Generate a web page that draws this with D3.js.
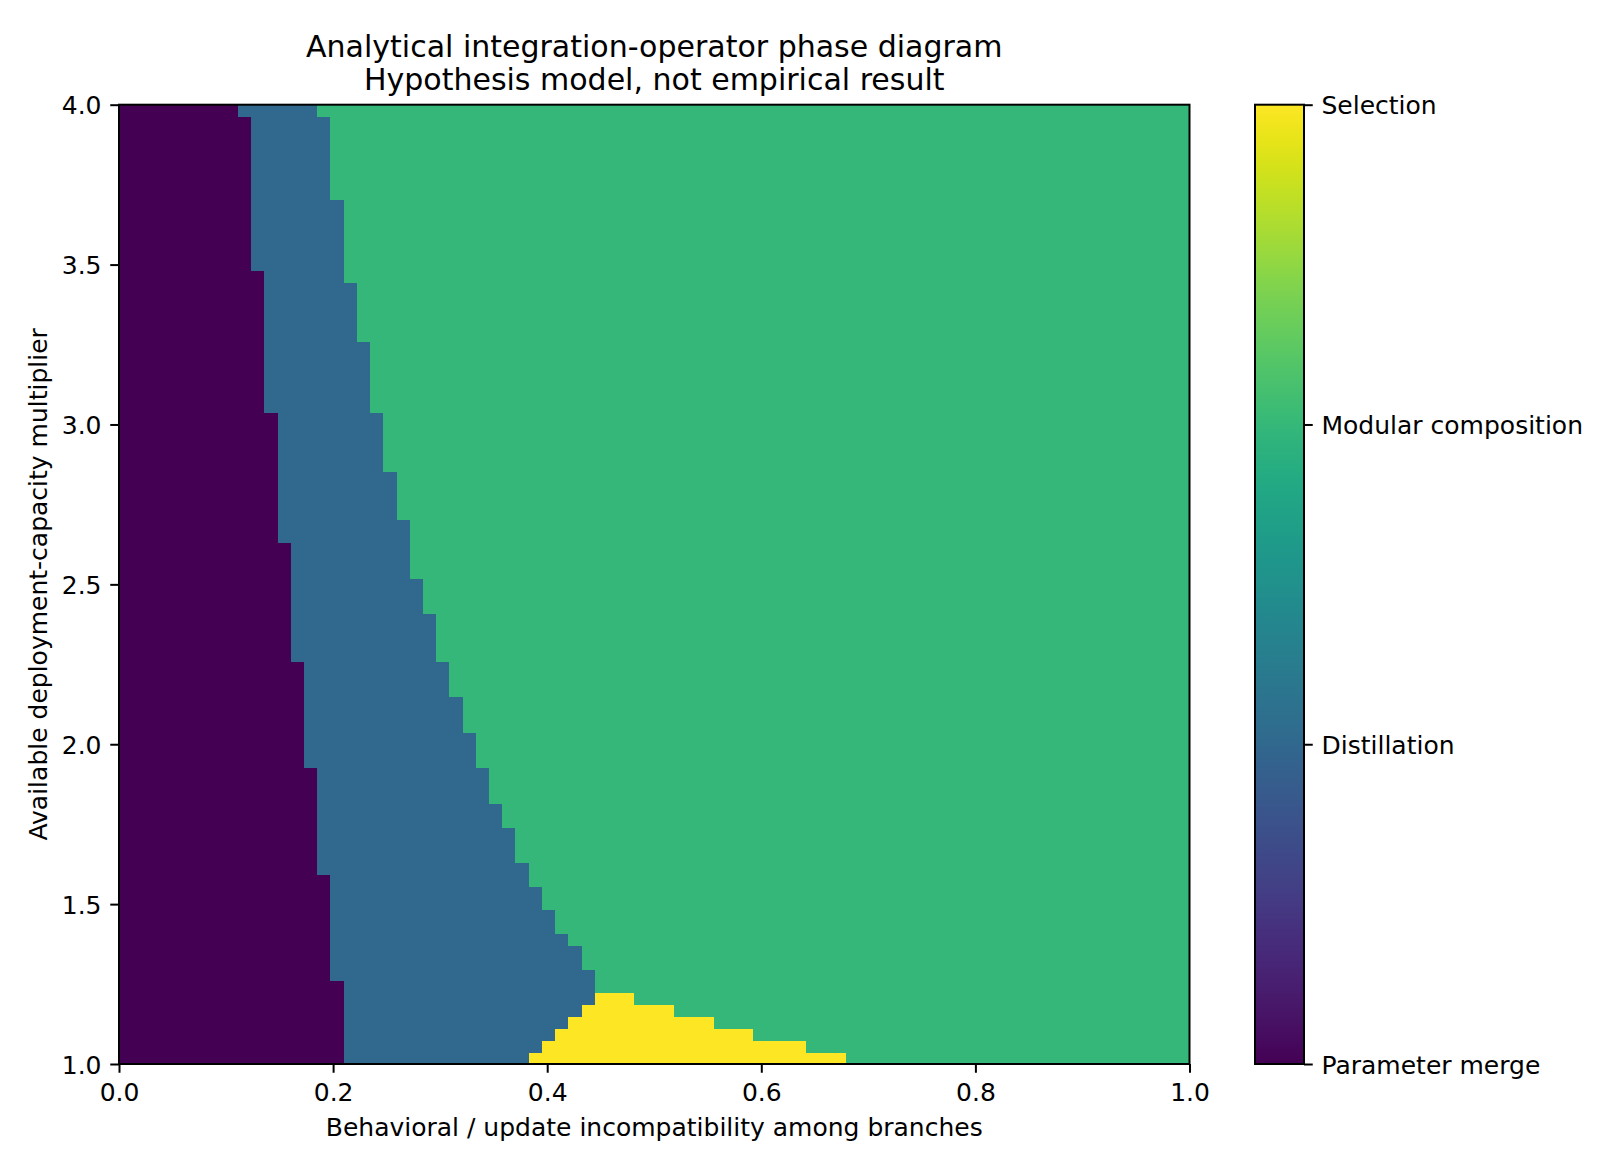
<!DOCTYPE html>
<html>
<head>
<meta charset="utf-8">
<script src="https://cdn.jsdelivr.net/npm/d3@7"></script>
<style>
    body { margin: 0; background: #fff; }
    svg text { font-family: "DejaVu Sans", sans-serif; fill: #000; }
</style>
</head>
<body>
<svg id="chart"></svg>
<script>
// phase classes: 0 merge, 1 distillation, 2 modular composition, 3 selection
var phaseNames = ['Parameter merge', 'Distillation', 'Modular composition', 'Selection'];
var phaseValues = [0, 1, 2, 3];

var xTicks = [0.0, 0.2, 0.4, 0.6, 0.8, 1.0];
var yTicks = [1.0, 1.5, 2.0, 2.5, 3.0, 3.5, 4.0];

var nCols = 81, nRows = 81;

// per grid row, bottom (capacity 1.0) to top (4.0): first column in Distillation
var distillStart = [
    17,17,17,17,17,17,17,16,16,16,
    16,16,16,16,16,16,15,15,15,15,
    15,15,15,15,15,14,14,14,14,14,
    14,14,14,14,13,13,13,13,13,13,
    13,13,13,13,12,12,12,12,12,12,
    12,12,12,12,12,11,11,11,11,11,
    11,11,11,11,11,11,11,10,10,10,
    10,10,10,10,10,10,10,10,10,10,
    9
];

// per grid row: first column past Distillation
var distillEnd = [
    31,32,33,34,35,36,36,36,35,35,
    34,33,33,32,32,31,31,30,30,30,
    29,29,28,28,28,27,27,27,26,26,
    26,25,25,25,24,24,24,24,23,23,
    23,22,22,22,22,22,21,21,21,21,
    20,20,20,20,20,19,19,19,19,19,
    19,18,18,18,18,18,17,17,17,17,
    17,17,17,16,16,16,16,16,16,16,
    15
];

// bottom rows only: first column past the Selection pocket
var selectionEnd = [55, 52, 48, 45, 42, 39];

var title1 = 'Analytical integration-operator phase diagram';
var title2 = 'Hypothesis model, not empirical result';
var xLabel = 'Behavioral / update incompatibility among branches';
var yLabel = 'Available deployment-capacity multiplier';

// figure geometry
var figW = 1620, figH = 1170;
var margin = {left: 119, top: 104.7};
var width = 1070.5, height = 959.3;
var cbar = {x: 1255, w: 49};

var svg = d3.select('#chart')
    .attr('width', figW)
    .attr('height', figH);

var g = svg.append('g')
    .attr('transform', 'translate(' + margin.left + ',' + margin.top + ')');

var x = d3.scaleLinear().domain([0, 1]).range([0, width]);
var y = d3.scaleLinear().domain([1, 4]).range([height, 0]);
var color = function(v) { return d3.interpolateViridis(v / 3); };

function phaseAt(r, c) {
    if (c < distillStart[r]) return 0;
    if (c < distillEnd[r]) return 1;
    if (r < selectionEnd.length && c < selectionEnd[r]) return 3;
    return 2;
}

// collapse each row into runs of equal phase
var runs = [];
for (var r = 0; r < nRows; r++) {
    var c0 = 0, cur = phaseAt(r, 0);
    for (var c = 1; c <= nCols; c++) {
        var p = c < nCols ? phaseAt(r, c) : -1;
        if (p !== cur) {
            runs.push({row: r, c0: c0, c1: c, phase: cur});
            c0 = c; cur = p;
        }
    }
}

var cellY0 = function(r) { return 1 + 3 * r / nRows; };

g.append('g')
    .selectAll('rect')
    .data(runs)
    .join('rect')
    .attr('x', function(d) { return x(d.c0 / nCols); })
    .attr('width', function(d) { return x(d.c1 / nCols) - x(d.c0 / nCols) + 0.4; })
    .attr('y', function(d) { return y(cellY0(d.row + 1)); })
    .attr('height', function(d) { return y(cellY0(d.row)) - y(cellY0(d.row + 1)) + 0.4; })
    .attr('fill', function(d) { return color(d.phase); })
    .attr('shape-rendering', 'crispEdges');

// axes
var xAxis = g.append('g')
    .attr('transform', 'translate(0,' + height + ')')
    .call(d3.axisBottom(x)
        .tickValues(xTicks)
        .tickFormat(d3.format('.1f'))
        .tickSize(8.75)
        .tickPadding(10));

var yAxis = g.append('g')
    .call(d3.axisLeft(y)
        .tickValues(yTicks)
        .tickFormat(d3.format('.1f'))
        .tickSize(8.75)
        .tickPadding(8.75));

[xAxis, yAxis].forEach(function(a) {
    a.select('.domain').remove();
    a.selectAll('line').attr('stroke', '#000').attr('stroke-width', 2);
    a.selectAll('text').style('font-size', '25px').attr('fill', '#000');
});
yAxis.selectAll('text').attr('dy', '0.36em');

// spines
g.append('rect')
    .attr('width', width)
    .attr('height', height)
    .attr('fill', 'none')
    .attr('stroke', '#000')
    .attr('stroke-width', 2);

// colorbar
var defs = svg.append('defs');
var grad = defs.append('linearGradient')
    .attr('id', 'viridis')
    .attr('x1', 0).attr('y1', 1)
    .attr('x2', 0).attr('y2', 0);
grad.selectAll('stop')
    .data(d3.range(0, 1.0001, 0.02))
    .join('stop')
    .attr('offset', function(d) { return d; })
    .attr('stop-color', function(d) { return d3.interpolateViridis(d); });

var cb = svg.append('g')
    .attr('transform', 'translate(' + cbar.x + ',' + margin.top + ')');

var yc = d3.scaleLinear().domain([0, 3]).range([height, 0]);

cb.append('rect')
    .attr('width', cbar.w)
    .attr('height', height)
    .attr('fill', 'url(#viridis)');

var cbAxis = cb.append('g')
    .attr('transform', 'translate(' + cbar.w + ',0)')
    .call(d3.axisRight(yc)
        .tickValues(phaseValues)
        .tickFormat(function(d) { return phaseNames[d]; })
        .tickSize(8.75)
        .tickPadding(8.75));
cbAxis.select('.domain').remove();
cbAxis.selectAll('line').attr('stroke', '#000').attr('stroke-width', 2);
cbAxis.selectAll('text').style('font-size', '25px').attr('fill', '#000').attr('dy', '0.36em');

cb.append('rect')
    .attr('width', cbar.w)
    .attr('height', height)
    .attr('fill', 'none')
    .attr('stroke', '#000')
    .attr('stroke-width', 2);

// titles and labels
var cx = margin.left + width / 2;
svg.append('text')
    .attr('x', cx).attr('y', 56.5)
    .attr('text-anchor', 'middle')
    .style('font-size', '30px')
    .text(title1);
svg.append('text')
    .attr('x', cx).attr('y', 90)
    .attr('text-anchor', 'middle')
    .style('font-size', '30px')
    .text(title2);

svg.append('text')
    .attr('x', cx).attr('y', 1136)
    .attr('text-anchor', 'middle')
    .style('font-size', '25px')
    .text(xLabel);

svg.append('text')
    .attr('transform', 'translate(46.7,' + (margin.top + height / 2) + ') rotate(-90)')
    .attr('text-anchor', 'middle')
    .style('font-size', '25px')
    .text(yLabel);
</script>
</body>
</html>
